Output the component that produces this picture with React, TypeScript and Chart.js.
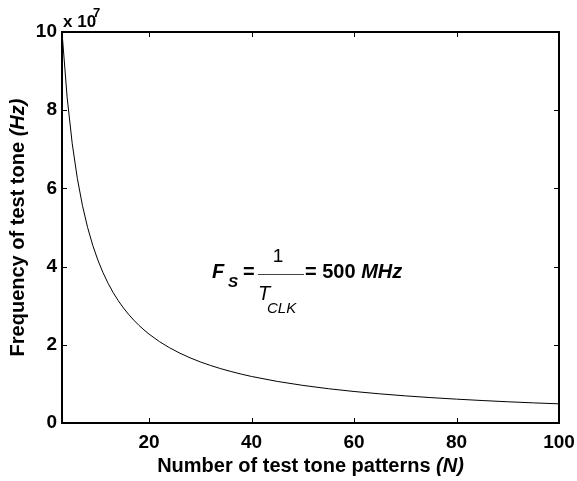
import React, { useEffect, useRef } from "react";
import { Chart, registerables } from "chart.js";

Chart.register(...registerables);

// Number of test tone patterns N
const N_VALUES = [
  3, 4, 5, 6, 7, 8, 9, 10, 11, 12, 13, 14, 15, 16, 17, 18, 19, 20,
  22, 24, 26, 28, 30, 32, 34, 36, 38, 40,
  45, 50, 55, 60, 65, 70, 75, 80, 85, 90, 95, 100,
];
// Frequency of test tone, in units of 1e7 Hz
const FREQ_VALUES = [
  10.0, 8.333, 7.143, 6.25, 5.556, 5.0, 4.545, 4.167, 3.846, 3.571, 3.333, 3.125, 2.941, 2.778, 2.632, 2.5, 2.381, 2.273,
  2.083, 1.923, 1.786, 1.667, 1.5625, 1.471, 1.389, 1.316, 1.25, 1.19,
  1.064, 0.962, 0.877, 0.806, 0.746, 0.694, 0.649, 0.61, 0.575, 0.543, 0.515, 0.49,
];
const X_TICKS = [20, 40, 60, 80, 100];
const Y_TICKS = [0, 2, 4, 6, 8, 10];

const FONT = '"Liberation Sans", Arial, Helvetica, sans-serif';

const decorPlugin = {
  id: "decor",
  afterDraw(chart: any) {
    const ctx = chart.ctx as CanvasRenderingContext2D;
    const area = chart.chartArea;
    const xs = chart.scales.x;
    const ys = chart.scales.y;
    ctx.save();
    // inward ticks
    ctx.strokeStyle = "#000";
    ctx.lineWidth = 1;
    ctx.beginPath();
    const tl = 5;
    for (const v of X_TICKS) {
      const px = Math.round(xs.getPixelForValue(v)) + 0.5;
      ctx.moveTo(px, area.bottom);
      ctx.lineTo(px, area.bottom - tl);
      ctx.moveTo(px, area.top);
      ctx.lineTo(px, area.top + tl);
    }
    for (const v of Y_TICKS) {
      const py = Math.round(ys.getPixelForValue(v)) + 0.5;
      ctx.moveTo(area.left, py);
      ctx.lineTo(area.left + tl, py);
      ctx.moveTo(area.right, py);
      ctx.lineTo(area.right - tl, py);
    }
    ctx.stroke();
    // frame
    ctx.lineWidth = 2;
    ctx.strokeRect(area.left, area.top, area.right - area.left, area.bottom - area.top);

    ctx.fillStyle = "#000";
    ctx.textBaseline = "alphabetic";
    // x title
    const cx = (area.left + area.right) / 2;
    ctx.font = `bold 20px ${FONT}`;
    const p1 = "Number of test tone patterns ";
    const w1 = ctx.measureText(p1).width;
    ctx.font = `italic bold 20px ${FONT}`;
    const p2 = "(N)";
    const w2 = ctx.measureText(p2).width;
    const sx = cx - (w1 + w2) / 2;
    ctx.font = `bold 20px ${FONT}`;
    ctx.textAlign = "left";
    ctx.fillText(p1, sx, 472);
    ctx.font = `italic bold 20px ${FONT}`;
    ctx.fillText(p2, sx + w1, 472);

    // y title
    const cy = (area.top + area.bottom) / 2;
    ctx.save();
    ctx.translate(24, cy);
    ctx.rotate(-Math.PI / 2);
    ctx.font = `bold 20px ${FONT}`;
    const q1 = "Frequency of test tone ";
    const qw1 = ctx.measureText(q1).width;
    ctx.font = `italic bold 20px ${FONT}`;
    const q2 = "(Hz)";
    const qw2 = ctx.measureText(q2).width;
    const qs = -(qw1 + qw2) / 2;
    ctx.font = `bold 20px ${FONT}`;
    ctx.fillText(q1, qs, 0);
    ctx.font = `italic bold 20px ${FONT}`;
    ctx.fillText(q2, qs + qw1, 0);
    ctx.restore();

    // exponent
    ctx.font = `bold 17px ${FONT}`;
    ctx.fillText("x 10", 63, 27);
    ctx.font = `bold 13px ${FONT}`;
    ctx.fillText("7", 93, 17);

    // formula
    ctx.font = `italic bold 20px ${FONT}`;
    ctx.fillText("F", 212, 278);
    ctx.font = `italic bold 15px ${FONT}`;
    ctx.fillText("S", 228, 287);
    ctx.font = `bold 20px ${FONT}`;
    ctx.fillText("=", 243, 278);
    ctx.lineWidth = 1;
    ctx.strokeStyle = "#444";
    ctx.beginPath();
    ctx.moveTo(258, 274.5);
    ctx.lineTo(304, 274.5);
    ctx.stroke();
    ctx.font = `19px ${FONT}`;
    ctx.textAlign = "center";
    ctx.fillText("1", 278, 262);
    ctx.textAlign = "left";
    ctx.font = `italic 20px ${FONT}`;
    ctx.fillText("T", 258, 300);
    ctx.font = `italic 15px ${FONT}`;
    ctx.fillText("CLK", 267, 313);
    ctx.font = `bold 20px ${FONT}`;
    const e1 = "= 500 ";
    ctx.fillText(e1, 305, 278);
    const ew = ctx.measureText(e1).width;
    ctx.font = `italic bold 20px ${FONT}`;
    ctx.fillText("MHz", 305 + ew, 278);
    ctx.restore();
  },
};

export default function App() {
  const ref = useRef<HTMLCanvasElement | null>(null);
  useEffect(() => {
    if (!ref.current) return;
    const chart = new Chart(ref.current, {
      type: "line",
      data: {
        datasets: [
          {
            data: N_VALUES.map((n, i) => ({ x: n, y: FREQ_VALUES[i] })),
            borderColor: "#000",
            borderWidth: 1,
            pointRadius: 0,
            fill: false,
            tension: 0,
          },
        ],
      },
      options: {
        animation: false,
        responsive: false,
        maintainAspectRatio: false,
        layout: { padding: { top: 32, right: 18, left: 0, bottom: 0 } },
        plugins: { legend: { display: false }, tooltip: { enabled: false } },
        scales: {
          x: {
            type: "linear",
            min: 3,
            max: 100,
            grid: { display: false, drawTicks: false },
            border: { display: false },
            afterBuildTicks: (s: any) => {
              s.ticks = X_TICKS.map((v) => ({ value: v }));
            },
            afterFit: (s: any) => {
              s.height = 58;
              s.paddingLeft = 0;
              s.paddingRight = 0;
            },
            ticks: {
              autoSkip: false,
              maxRotation: 0,
              padding: 8,
              color: "#000",
              font: { family: FONT, size: 19, weight: "bold" },
            },
          },
          y: {
            type: "linear",
            min: 0,
            max: 10,
            grid: { display: false, drawTicks: false },
            border: { display: false },
            afterBuildTicks: (s: any) => {
              s.ticks = Y_TICKS.map((v) => ({ value: v }));
            },
            afterFit: (s: any) => {
              s.width = 62;
              s.paddingTop = 0;
              s.paddingBottom = 0;
            },
            ticks: {
              autoSkip: false,
              padding: 5,
              color: "#000",
              font: { family: FONT, size: 19, weight: "bold" },
            },
          },
        },
      },
      plugins: [decorPlugin],
    } as any);
    return () => chart.destroy();
  }, []);
  return (
    <div style={{ position: "fixed", left: 0, top: 0, width: 577, height: 481, background: "#fff" }}>
      <canvas ref={ref} width={577} height={481} style={{ display: "block", width: 577, height: 481 }} />
    </div>
  );
}
